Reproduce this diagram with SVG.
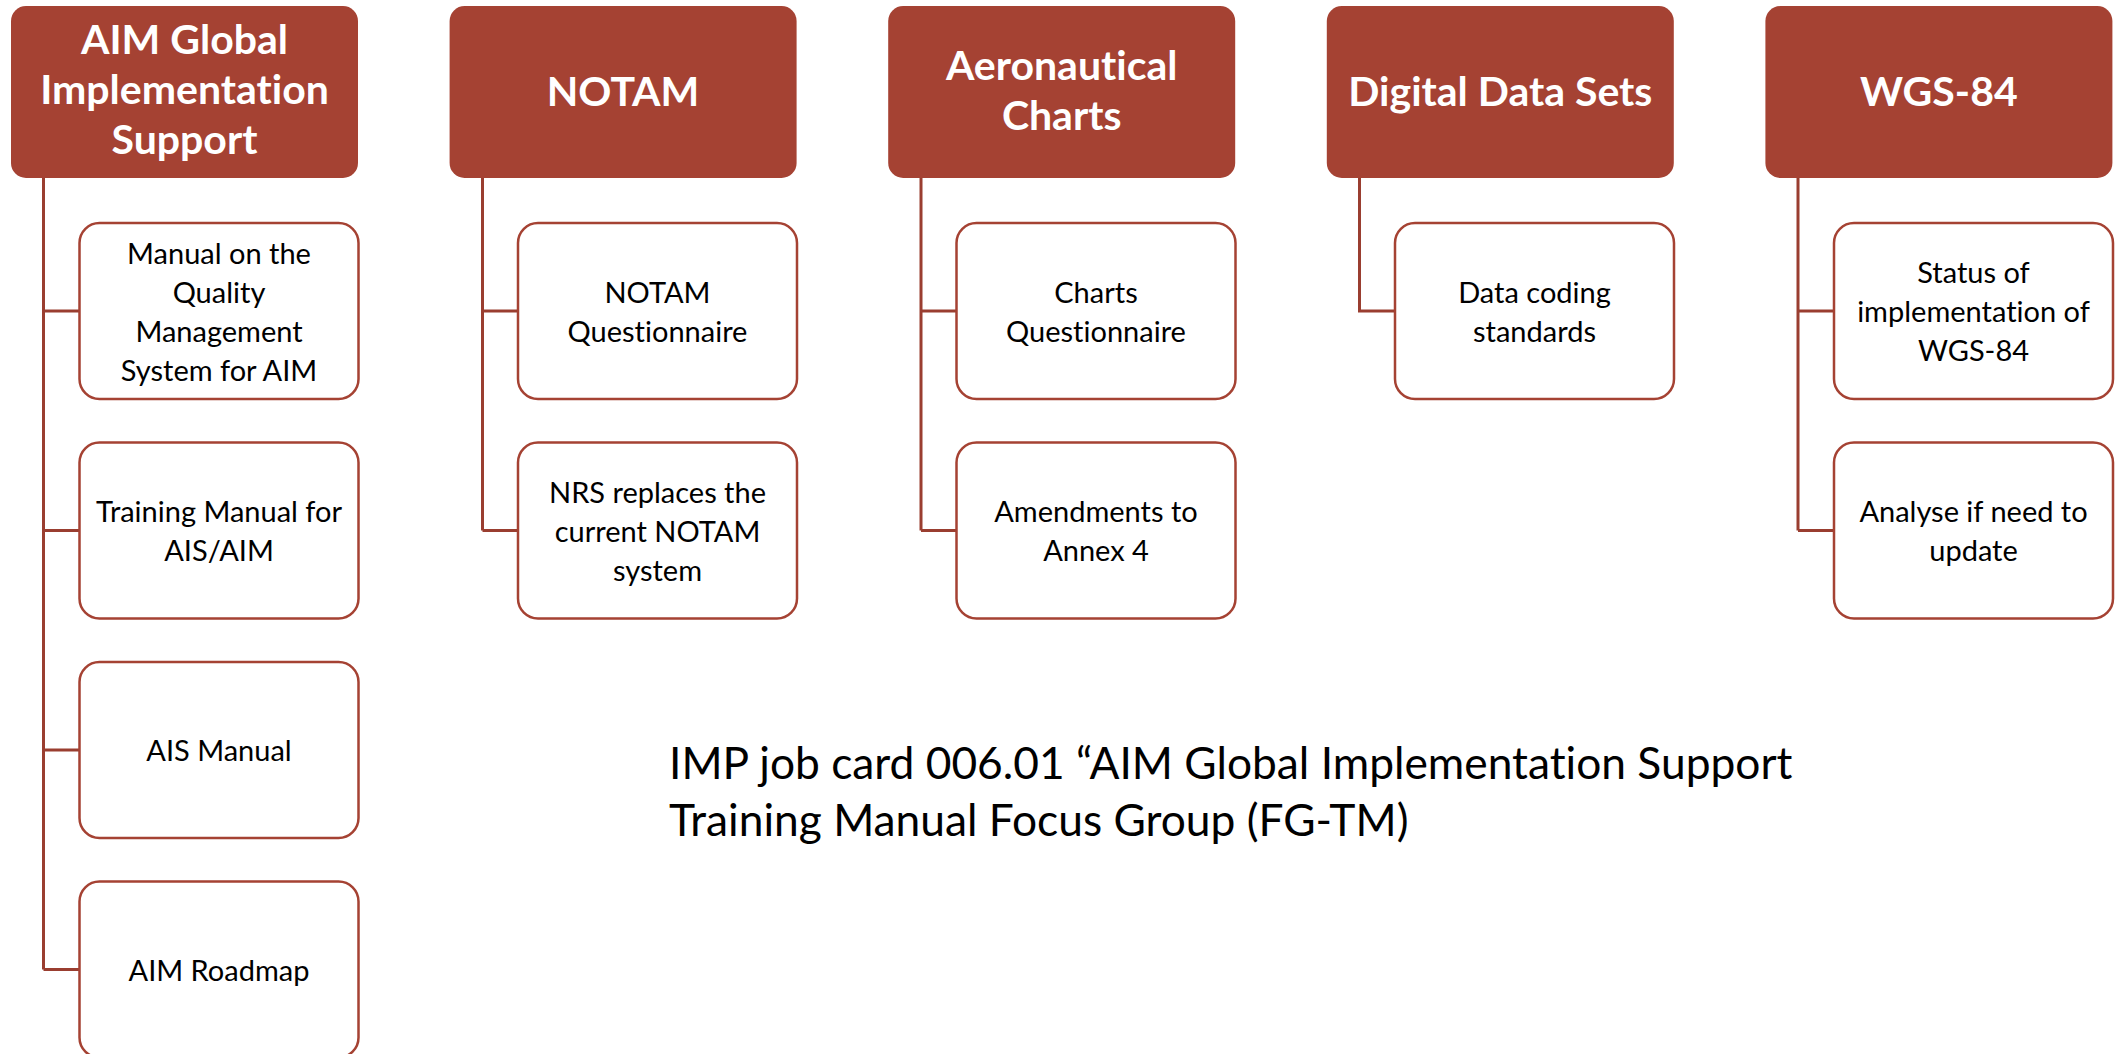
<svg xmlns="http://www.w3.org/2000/svg" width="2116" height="1054" viewBox="0 0 2116 1054">
<style>
text{font-variant-ligatures:none;font-feature-settings:"liga" 0,"clig" 0;}
.hdr{fill:#A54233;}
.hdt{fill:#FFFFFF;font-family:Lato,"Liberation Sans",sans-serif;font-weight:700;font-size:41px;text-anchor:middle;}
.box{fill:#FFFFFF;stroke:#A54233;stroke-width:2.5;}
.bxt{fill:#000000;font-family:Lato,"Liberation Sans",sans-serif;font-size:29px;text-anchor:middle;}
.con{fill:none;stroke:#9A3E30;stroke-width:3;}
.note{fill:#000000;font-family:Lato,"Liberation Sans",sans-serif;font-size:44.3px;}
</style>
<rect width="2116" height="1054" fill="#FFFFFF"/>
<g id="connectors">
<path class="con" d="M43.5 178 V969.5 M43.5 311 H79.5 M43.5 530.5 H79.5 M43.5 750 H79.5 M43.5 969.5 H79.5"/>
<path class="con" d="M482.5 178 V530.5 M482.5 311 H518 M482.5 530.5 H518"/>
<path class="con" d="M921 178 V530.5 M921 311 H956.5 M921 530.5 H956.5"/>
<path class="con" d="M1359.5 178 V311 H1395"/>
<path class="con" d="M1798 178 V530.5 M1798 311 H1834 M1798 530.5 H1834"/>
</g>
<g id="h1"><rect class="hdr" x="11" y="6" width="347" height="172" rx="15"/>
<text class="hdt" x="184.5" y="54">AIM Global</text><text class="hdt" x="184.5" y="104">Implementation</text><text class="hdt" x="184.5" y="154">Support</text></g>
<g id="h2"><rect class="hdr" x="449.6" y="6" width="347" height="172" rx="15"/>
<text class="hdt" x="623" y="106">NOTAM</text></g>
<g id="h3"><rect class="hdr" x="888.2" y="6" width="347" height="172" rx="15"/>
<text class="hdt" x="1061.7" y="80">Aeronautical</text><text class="hdt" x="1061.7" y="130">Charts</text></g>
<g id="h4"><rect class="hdr" x="1326.8" y="6" width="347" height="172" rx="15"/>
<text class="hdt" x="1500.3" y="106">Digital Data Sets</text></g>
<g id="h5"><rect class="hdr" x="1765.4" y="6" width="347" height="172" rx="15"/>
<text class="hdt" x="1938.9" y="106">WGS-84</text></g>

<g id="c1a"><rect class="box" x="79.5" y="223" width="279" height="176" rx="20"/>
<text class="bxt" x="219" y="263.5">Manual on the</text><text class="bxt" x="219" y="302.5">Quality</text><text class="bxt" x="219" y="341.5">Management</text><text class="bxt" x="219" y="380.5">System for AIM</text></g>
<g id="c1b"><rect class="box" x="79.5" y="442.5" width="279" height="176" rx="20"/>
<text class="bxt" x="219" y="522">Training Manual for</text><text class="bxt" x="219" y="561">AIS/AIM</text></g>
<g id="c1c"><rect class="box" x="79.5" y="662" width="279" height="176" rx="20"/>
<text class="bxt" x="219" y="761">AIS Manual</text></g>
<g id="c1d"><rect class="box" x="79.5" y="881.5" width="279" height="176" rx="20"/>
<text class="bxt" x="219" y="980.5">AIM Roadmap</text></g>

<g id="c2a"><rect class="box" x="518" y="223" width="279" height="176" rx="20"/>
<text class="bxt" x="657.5" y="302.5">NOTAM</text><text class="bxt" x="657.5" y="341.5">Questionnaire</text></g>
<g id="c2b"><rect class="box" x="518" y="442.5" width="279" height="176" rx="20"/>
<text class="bxt" x="657.5" y="502.5">NRS replaces the</text><text class="bxt" x="657.5" y="541.5">current NOTAM</text><text class="bxt" x="657.5" y="580.5">system</text></g>

<g id="c3a"><rect class="box" x="956.5" y="223" width="279" height="176" rx="20"/>
<text class="bxt" x="1096" y="302.5">Charts</text><text class="bxt" x="1096" y="341.5">Questionnaire</text></g>
<g id="c3b"><rect class="box" x="956.5" y="442.5" width="279" height="176" rx="20"/>
<text class="bxt" x="1096" y="522">Amendments to</text><text class="bxt" x="1096" y="561">Annex 4</text></g>

<g id="c4a"><rect class="box" x="1395" y="223" width="279" height="176" rx="20"/>
<text class="bxt" x="1534.5" y="302.5">Data coding</text><text class="bxt" x="1534.5" y="341.5">standards</text></g>

<g id="c5a"><rect class="box" x="1834" y="223" width="279" height="176" rx="20"/>
<text class="bxt" x="1973.5" y="283">Status of</text><text class="bxt" x="1973.5" y="322">implementation of</text><text class="bxt" x="1973.5" y="361">WGS-84</text></g>
<g id="c5b"><rect class="box" x="1834" y="442.5" width="279" height="176" rx="20"/>
<text class="bxt" x="1973.5" y="522">Analyse if need to</text><text class="bxt" x="1973.5" y="561">update</text></g>

<g id="note">
<text class="note" x="669" y="779">IMP job card 006.01 “AIM Global Implementation Support</text>
<text class="note" x="669" y="836">Training Manual Focus Group (FG-TM)</text>
</g>
</svg>
